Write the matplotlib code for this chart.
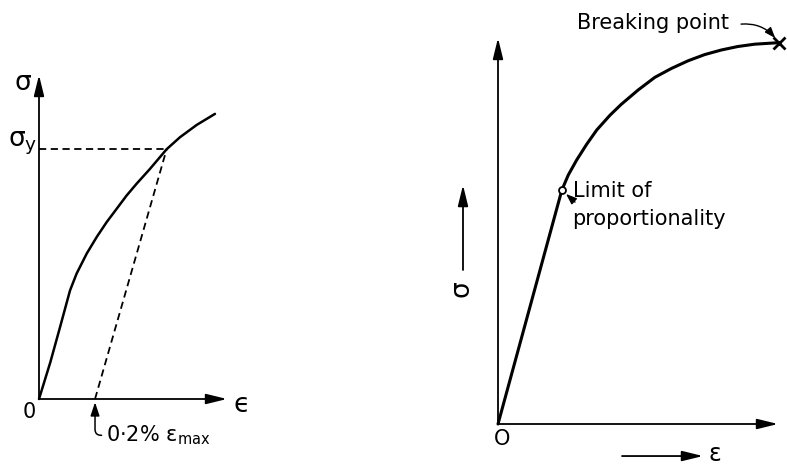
import matplotlib.pyplot as plt
import numpy as np

plt.rcParams.update({"font.size": 15, "font.family": "DejaVu Sans", "mathtext.default": "regular"})

# %% data (axes run 0..1 in both panels)

# left: curve without a clear yield point, 0.2 % offset method
strain_left = [0.0, 0.060, 0.112, 0.165, 0.200, 0.254, 0.307, 0.360, 0.413, 0.466,
               0.520, 0.590, 0.679, 0.750, 0.839, 0.936]
stress_left = [0.0, 0.113, 0.222, 0.335, 0.387, 0.449, 0.500, 0.546, 0.587, 0.628,
               0.665, 0.710, 0.771, 0.808, 0.846, 0.880]
offset_strain = 0.298  # 0.2 % eps_max on the strain axis
yield_strain = 0.679
yield_stress = 0.771

# right: linear part up to the limit of proportionality, then the curve up to breaking
strain_right = [0.0, 0.228, 0.251, 0.281, 0.317, 0.353, 0.400, 0.440, 0.500, 0.560,
                0.619, 0.679, 0.738, 0.798, 0.857, 0.917, 1.005]
stress_right = [0.0, 0.606, 0.645, 0.684, 0.725, 0.762, 0.800, 0.828, 0.865, 0.898,
                0.921, 0.941, 0.957, 0.969, 0.978, 0.984, 0.988]
limit_idx = 1

# %%
fig = plt.figure(figsize=(7.87, 4.66), dpi=100)
ax1 = fig.add_axes([39 / 787, 67 / 466, 188 / 787, 324 / 466])
ax2 = fig.add_axes([498 / 787, 42 / 466, 280 / 787, 386 / 466])

for ax in (ax1, ax2):
    ax.set_xlim(0, 1)
    ax.set_ylim(0, 1)
    ax.axis("off")

axis_arrow = dict(arrowstyle="-|>,head_length=0.9,head_width=0.22", color="black",
                  lw=1.3, shrinkA=0, shrinkB=0, mutation_scale=14)
small_arrow = dict(arrowstyle="-|>,head_length=0.8,head_width=0.3", color="black",
                   lw=1, shrinkA=0, shrinkB=0, mutation_scale=8)

# ---- left panel
ax1.annotate("", xy=(1, 0), xytext=(0, 0), arrowprops=axis_arrow, annotation_clip=False)
ax1.annotate("", xy=(0, 1), xytext=(0, 0), arrowprops=axis_arrow, annotation_clip=False)

ax1.plot(strain_left, stress_left, color="black", lw=1.8, solid_capstyle="round",
         solid_joinstyle="round", clip_on=False)
ax1.plot([0, yield_strain], [yield_stress, yield_stress], color="black", lw=1.3,
         linestyle=(0, (4, 2.5)), clip_on=False)
ax1.plot([offset_strain, yield_strain], [0, yield_stress], color="black", lw=1.3,
         linestyle=(0, (4, 2.5)), clip_on=False)

ax1.text(-0.085, 0.975, "σ", fontsize=19, ha="center", va="center")
ax1.text(-0.01, 0.79, r"$\sigma_y$", fontsize=19, ha="right", va="center")
ax1.text(-0.05, -0.04, "0", fontsize=15, ha="center", va="center")
ax1.text(1.08, -0.02, "ϵ", fontsize=19, ha="center", va="center")
ax1.annotate(r"0·2% $\epsilon_{max}$", xy=(offset_strain, -0.01), xytext=(0.355, -0.112),
             fontsize=15, ha="left", va="center", annotation_clip=False,
             arrowprops=dict(arrowstyle="-|>,head_length=0.9,head_width=0.3", color="black",
                             lw=1.1, shrinkA=1, shrinkB=0, relpos=(0, 0.5), mutation_scale=9,
                             connectionstyle="angle,angleA=0,angleB=90,rad=6"))

# ---- right panel
ax2.annotate("", xy=(1, 0), xytext=(0, 0), arrowprops=axis_arrow, annotation_clip=False)
ax2.annotate("", xy=(0, 1), xytext=(0, 0), arrowprops=axis_arrow, annotation_clip=False)

ax2.plot(strain_right, stress_right, color="black", lw=2.2, solid_capstyle="round",
         solid_joinstyle="round", clip_on=False)
ax2.plot(strain_right[limit_idx], stress_right[limit_idx], "o", ms=5, mfc="white",
         mec="black", mew=1.3, clip_on=False)
ax2.plot(strain_right[-1], stress_right[-1], "x", ms=9, color="black", mew=2, clip_on=False)

ax2.text(0.268, 0.604, "Limit of", ha="left", va="center")
ax2.text(0.264, 0.531, "proportionality", ha="left", va="center")
ax2.annotate("", xy=(0.243, 0.596), xytext=(0.275, 0.575), annotation_clip=False,
             arrowprops=small_arrow)

ax2.text(0.282, 1.039, "Breaking point", ha="left", va="center")
ax2.annotate("", xy=(0.99, 1.0), xytext=(0.868, 1.036), annotation_clip=False,
             arrowprops=dict(small_arrow, connectionstyle="arc3,rad=-0.25"))

# sigma label turned on its side, with arrow
ax2.text(-0.129, 0.352, "σ", fontsize=19, rotation=90, ha="center", va="center")
ax2.annotate("", xy=(-0.125, 0.619), xytext=(-0.125, 0.399), annotation_clip=False,
             arrowprops=axis_arrow)
ax2.text(0.014, -0.04, "O", ha="center", va="center")
ax2.annotate("", xy=(0.732, -0.083), xytext=(0.443, -0.083), annotation_clip=False,
             arrowprops=axis_arrow)
ax2.text(0.775, -0.078, "ε", fontsize=17, ha="center", va="center")

fig.savefig("out.png", dpi=100)
